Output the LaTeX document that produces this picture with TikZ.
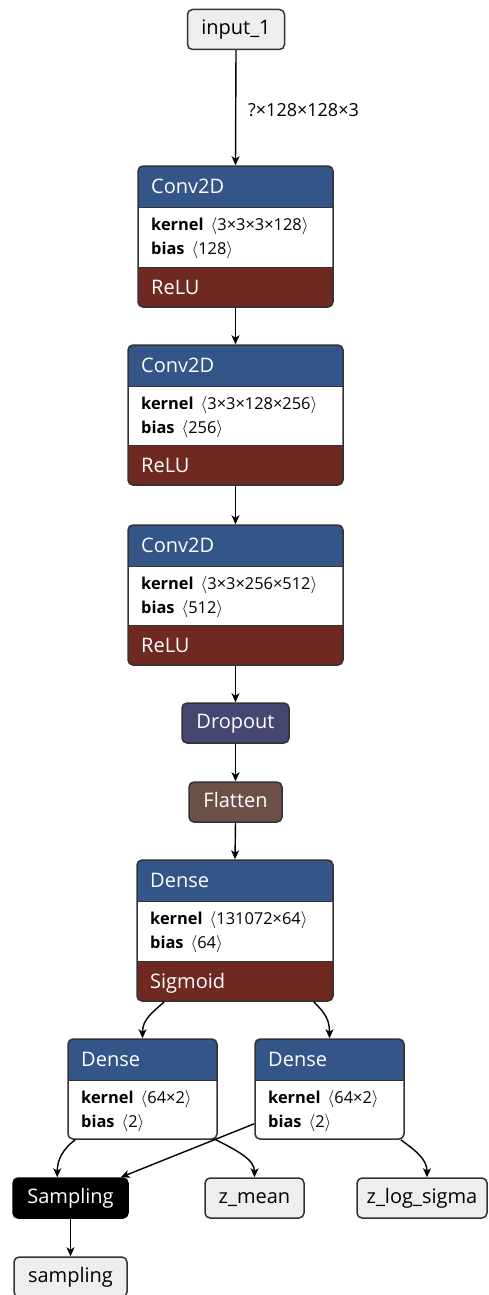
\documentclass[tikz,border=0pt]{standalone}
\usepackage{fontspec}
\setmainfont{Open Sans}
\usetikzlibrary{arrows.meta,fit,calc}
\definecolor{layerblue}{HTML}{335588}
\definecolor{actred}{HTML}{702921}
\definecolor{dropcol}{HTML}{454770}
\definecolor{shapecol}{HTML}{6C4F47}
\definecolor{termgrey}{HTML}{EEEEEE}
\definecolor{bordercol}{HTML}{333333}
\tikzset{
 hdrtext/.style={font=\fontsize{20}{24}\selectfont, text=white, inner sep=0},
 attrtext/.style={font=\fontsize{16.4}{20}\selectfont, text=black, inner sep=0},
 outline/.style={draw=bordercol, line width=1.5pt, rounded corners=5pt, inner sep=0},
 term/.style={draw=bordercol, line width=1.5pt, rounded corners=5pt, fill=termgrey, minimum height=40, inner sep=0, font=\fontsize{20}{24}\selectfont, text height=15, text depth=4},
 opnode/.style={term, text=white},
 edge/.style={line width=1.4pt, -{Stealth[length=9pt,width=8pt,inset=2.5pt]}},
 elabel/.style={font=\fontsize{18}{22}\selectfont, inner sep=0}
}
\newcommand\mkblock[9]{%
 \begin{scope}
  \clip[rounded corners=5pt] (#2,#3) rectangle (#4,#5);
  \fill[white] (#2,#3) rectangle (#4,#5);
  \fill[layerblue] (#2,#3) rectangle (#4,#3+41);
  \if\relax\detokenize{#9}\relax\else
   \fill[actred] (#2,#5-40) rectangle (#4,#5);
   \draw[bordercol, line width=1pt] (#2,#5-40) -- (#4,#5-40);
  \fi
  \draw[bordercol, line width=1pt] (#2,#3+41) -- (#4,#3+41);
 \end{scope}
 \node[hdrtext, anchor=base west] (#1-h) at (#2+13,#3+27) {#6};
 \node[attrtext, anchor=base west] (#1-k) at (#2+13,#3+41+23) {\textbf{kernel}\hspace{7pt}$\langle$#7$\rangle$};
 \node[attrtext, anchor=base west] (#1-b) at (#2+13,#3+41+47) {\textbf{bias}\hspace{7pt}$\langle$#8$\rangle$};
 \if\relax\detokenize{#9}\relax\else
  \node[hdrtext, anchor=base west] (#1-a) at (#2+13,#5-13) {#9};
 \fi
 \node[outline, fit={(#2,#3) (#4,#5)}] (#1) {};
}
\begin{document}
\begin{tikzpicture}[x=1pt,y=-1pt]
\useasboundingbox (0,0) rectangle (488,1295);
% terminal / op nodes
\node[term, minimum width=97] (in) at (236,29.5) {input\_1};
\mkblock{c1}{138}{166}{333}{307}{Conv2D}{3×3×3×128}{128}{ReLU}
\mkblock{c2}{128}{345}{343}{485}{Conv2D}{3×3×128×256}{256}{ReLU}
\mkblock{c3}{128}{525}{343}{665}{Conv2D}{3×3×256×512}{512}{ReLU}
\node[opnode, fill=dropcol, minimum width=107] (drop) at (235.5,723) {Dropout};
\node[opnode, fill=shapecol, minimum width=93] (flat) at (235.5,802) {Flatten};
\mkblock{dm}{137}{860}{333}{1001}{Dense}{131072×64}{64}{Sigmoid}
\mkblock{dl}{68}{1039}{217}{1139}{Dense}{64×2}{2}{}
\mkblock{dr}{255}{1039}{404}{1139}{Dense}{64×2}{2}{}
\node[opnode, fill=black, draw=black, minimum width=115] (samp) at (70.5,1198) {Sampling};
\node[term, minimum width=99] (zmean) at (254.5,1198) {z\_mean};
\node[term, minimum width=130] (zlog) at (422,1198) {z\_log\_sigma};
\node[term, minimum width=113] (sout) at (70.5,1277) {sampling};
% edges
\draw[edge] (in.south) -- (c1.north);
\node[elabel, anchor=base west] (lbl) at (248,117) {?×128×128×3};
\draw[edge] (c1.south) -- (c2.north);
\draw[edge] (c2.south) -- (c3.north);
\draw[edge] (c3.south) -- (drop.north);
\draw[edge] (drop.south) -- (flat.north);
\draw[edge] (flat.south) -- (dm.north);
\draw[edge] ($(dm.south west)+(28,0)$) .. controls +(-12,11) and +(0,-19) .. (dl.north);
\draw[edge] ($(dm.south east)+(-20,0)$) .. controls +(11,11) and +(0,-19) .. (dr.north);
\draw[edge] ($(dl.south west)+(8,0)$) .. controls +(-12,9) and +(0,-18) .. ($(samp.north west)+(45,0)$);
\draw[edge] ($(dl.south east)+(-4,-1)$) .. controls +(22,11) and +(0,-18) .. (zmean.north);
\draw[edge] ($(dr.south west)+(0,-16)$) -- ($(samp.north east)+(-8,0)$);
\draw[edge] ($(dr.south east)+(-4,0)$) .. controls +(15,11) and +(0,-18) .. ($(zlog.north)+(5,0)$);
\draw[edge] (samp.south) -- (sout.north);
\end{tikzpicture}
\end{document}
